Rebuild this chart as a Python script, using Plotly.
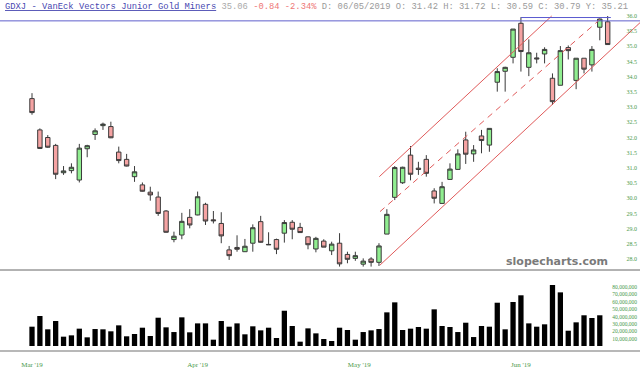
import plotly.graph_objects as go

# ---------------- data ----------------
opens = [33.28, 32.25, 32.00, 31.74, 30.84, 30.91, 30.60, 31.63, 32.10, 32.39,
         32.36, 31.52, 31.28, 30.71, 30.44, 30.20, 30.04, 29.58, 28.64, 28.79,
         29.37, 29.45, 29.80, 29.29, 29.17, 28.30, 28.38, 28.24, 28.52, 29.23,
         28.48, 28.64, 28.85, 29.21, 29.04, 28.73, 28.33, 28.59, 28.27, 28.52,
         28.15, 28.02, 27.83, 28.00, 27.89, 28.82, 30.03, 30.51, 31.42, 30.99,
         31.28, 30.24, 29.83, 30.62, 30.95, 31.92, 31.46, 32.05, 31.75, 33.82,
         34.18, 34.64, 35.76, 34.31, 34.62, 34.75, 33.95, 33.72, 34.96, 33.88,
         34.61, 34.39, 35.63, 35.81]
highs = [33.46, 32.30, 32.08, 31.79, 31.06, 31.15, 31.79, 31.76, 32.30, 32.49,
         32.52, 31.70, 31.46, 31.06, 30.52, 30.38, 30.22, 29.61, 28.90, 29.52,
         29.64, 30.22, 29.85, 29.58, 29.54, 28.43, 28.78, 28.66, 29.14, 29.42,
         28.88, 28.67, 29.28, 29.28, 29.19, 28.74, 28.73, 28.65, 28.57, 28.85,
         28.24, 28.24, 28.02, 28.06, 28.52, 29.64, 31.06, 31.04, 31.72, 31.20,
         31.42, 30.33, 30.54, 31.15, 31.61, 32.19, 31.75, 32.25, 32.30, 34.28,
         34.33, 35.57, 35.96, 35.23, 34.79, 34.97, 34.11, 35.01, 35.03, 34.61,
         34.61, 35.01, 35.92, 36.00]
lows = [32.75, 31.62, 31.66, 30.63, 30.77, 30.82, 30.52, 31.35, 31.92, 32.25,
        31.98, 31.15, 31.05, 30.54, 30.22, 29.92, 29.42, 28.87, 28.55, 28.65,
        29.01, 29.44, 29.12, 29.17, 28.52, 27.97, 28.24, 28.23, 28.24, 28.54,
        28.46, 28.16, 28.54, 28.65, 28.87, 28.32, 28.22, 28.39, 28.13, 27.75,
        27.86, 27.94, 27.75, 27.75, 27.77, 28.82, 29.94, 30.47, 30.59, 30.77,
        30.71, 29.83, 29.82, 30.61, 30.94, 31.13, 31.20, 31.48, 31.53, 33.51,
        33.51, 34.44, 34.17, 34.02, 34.44, 34.44, 33.07, 33.72, 34.57, 33.59,
        34.11, 34.17, 35.20, 35.06]
closes = [32.82, 31.64, 31.68, 30.79, 30.90, 31.02, 31.65, 31.73, 32.22, 32.44,
          31.99, 31.24, 31.06, 30.87, 30.23, 30.11, 29.50, 28.88, 28.75, 29.24,
          29.12, 30.05, 29.25, 29.26, 28.76, 28.11, 28.32, 28.42, 29.03, 28.55,
          28.47, 28.32, 29.20, 28.98, 28.87, 28.47, 28.68, 28.39, 28.49, 27.84,
          27.99, 28.11, 27.93, 27.89, 28.43, 29.47, 31.01, 31.02, 30.79, 30.95,
          30.82, 30.00, 30.38, 30.96, 31.46, 31.45, 31.59, 31.90, 32.30, 34.17,
          34.31, 35.57, 34.83, 34.79, 34.59, 34.90, 33.18, 34.86, 34.86, 34.61,
          34.25, 34.90, 35.90, 35.06]
volume_m = [26.3, 40.8, 22.7, 34.0, 12.7, 14.5, 23.6, 11.8, 23.1, 22.7,
            20.0, 28.1, 13.2, 16.3, 24.9, 13.6, 38.5, 25.4, 19.0, 39.0,
            18.6, 30.8, 30.8, 8.6, 34.0, 26.3, 30.8, 15.9, 26.8, 21.3,
            24.9, 10.9, 48.0, 27.2, 5.9, 24.0, 17.2, 9.5, 6.8, 24.9,
            21.8, 8.6, 19.0, 21.3, 23.1, 45.8, 59.4, 21.8, 23.6, 25.9,
            23.6, 49.9, 27.2, 25.9, 19.0, 31.7, 12.2, 27.2, 26.3, 58.9,
            22.7, 59.9, 69.0, 30.8, 26.3, 29.5, 83.0, 73.0, 20.8, 32.2,
            41.8, 38.1, 41.8, None]
bar_index = list(range(len(opens)))

month_labels = ["Mar '19", "Apr '19", "May '19", "Jun '19"]
month_pos = [0, 21, 41.5, 62]

price_ticks = [28.0 + 0.5 * k for k in range(17)]
volume_ticks = [10e6 * k for k in range(1, 9)]

# channel lines (index, price)
upper_x, upper_y = [44.04, 65.9], [30.71, 36.0]
mid_x, mid_y = [44.13, 72.03], [29.56, 35.89]
lower_x, lower_y = [44.13, 77.1], [27.80, 35.78]
hline_full = 35.84
hline_short_x, hline_short_y = [62, 73.4], 35.95

volumes = [None if v is None else v * 1e6 for v in volume_m]

# ---------------- figure ----------------
W, H = 640, 374
def py(px):
    return 1 - px / H

fig = go.Figure()
fig.add_trace(go.Candlestick(
    x=bar_index, open=opens, high=highs, low=lows, close=closes,
    increasing=dict(fillcolor="#90ee90", line=dict(color="#3a3a3a", width=1)),
    decreasing=dict(fillcolor="#f5a3a3", line=dict(color="#3a3a3a", width=1)),
    whiskerwidth=0, xaxis="x", yaxis="y", showlegend=False, hoverinfo="skip"))

fig.add_trace(go.Bar(x=bar_index, y=volumes, marker=dict(color="#000000", line=dict(width=0)),
                     xaxis="x", yaxis="y2", showlegend=False, hoverinfo="skip"))

red = "#e05a5a"
fig.add_trace(go.Scatter(x=upper_x, y=upper_y, mode="lines", line=dict(color=red, width=1),
                         xaxis="x", yaxis="y", showlegend=False, hoverinfo="skip"))
fig.add_trace(go.Scatter(x=mid_x, y=mid_y, mode="lines", line=dict(color=red, width=1, dash="6px,5px"),
                         xaxis="x", yaxis="y", showlegend=False, hoverinfo="skip"))
fig.add_trace(go.Scatter(x=lower_x, y=lower_y, mode="lines", line=dict(color=red, width=1),
                         xaxis="x", yaxis="y", showlegend=False, hoverinfo="skip"))
fig.add_trace(go.Scatter(x=hline_short_x, y=[hline_short_y] * 2, mode="lines",
                         line=dict(color="#5a5ad0", width=1),
                         xaxis="x", yaxis="y", showlegend=False, hoverinfo="skip"))

# x range from pixel geometry: index 0 at px 32, spacing 7.886
x0 = -32 / 7.886
x1 = (640 - 32) / 7.886

p_top = 28 + (259 - 10) / 30.375
p_bot = 28 + (259 - 270) / 30.375

fig.update_layout(
    width=W, height=H, margin=dict(l=0, r=0, t=0, b=0),
    paper_bgcolor="white", plot_bgcolor="white",
    boxgap=0.2, bargap=0.33,
    xaxis=dict(range=[x0, x1], anchor="y2", rangeslider=dict(visible=False),
               showgrid=False, zeroline=False, showline=False,
               tickvals=month_pos, ticktext=month_labels,
               ticks="outside", ticklen=7, tickcolor="rgba(0,0,0,0)",
               tickfont=dict(family="Liberation Serif", size=7, color="#4a9a4a")),
    yaxis=dict(domain=[py(270), py(10)], range=[p_bot, p_top], side="right",
               anchor="x", ticklabelposition="inside", showgrid=False, zeroline=False,
               showline=False, tickvals=price_ticks, tickformat=".1f",
               tickfont=dict(family="Liberation Serif", size=6, color="#4a9a4a")),
    yaxis2=dict(domain=[py(351), py(272)], range=[-6.8e6, 100.7e6], side="right",
                anchor="x", ticklabelposition="inside", showgrid=False, zeroline=False,
                showline=False, tickvals=volume_ticks, tickformat=",d",
                tickfont=dict(family="Liberation Serif", size=5.5, color="#4a9a4a")),
    shapes=[
        dict(type="line", xref="paper", x0=0, x1=1, yref="y", y0=hline_full, y1=hline_full,
             line=dict(color="#6060cc", width=1)),
        dict(type="line", xref="paper", x0=0, x1=1, yref="paper", y0=py(270), y1=py(270),
             line=dict(color="#666666", width=1)),
        dict(type="line", xref="paper", x0=0, x1=1, yref="paper", y0=py(351), y1=py(351),
             line=dict(color="#b8b8b8", width=2)),
    ],
    annotations=[
        dict(xref="paper", yref="paper", x=3 / W, y=py(7), xanchor="left", yanchor="middle",
             showarrow=False,
             text=("<span style='color:#4646b0'><u>GDXJ - VanEck Vectors Junior Gold Miners</u></span>"
                   " <span style='color:#aaaaaa'>35.06</span>"
                   " <span style='color:#ee7777'>-0.84 -2.34%</span>"
                   " <span style='color:#9a9a9a'>D: 06/05/2019 O: 31.42 H: 31.72 L: 30.59 C: 30.79 Y: 35.21</span>"),
             font=dict(family="Liberation Mono", size=8.8, color="#999999")),
        dict(xref="paper", yref="paper", x=557 / W, y=py(261), xanchor="center", yanchor="middle",
             showarrow=False, text="<b>slopecharts.com</b>",
             font=dict(family="DejaVu Sans", size=11, color="#7a7a7a")),
    ],
)

fig.write_html("out.html")
